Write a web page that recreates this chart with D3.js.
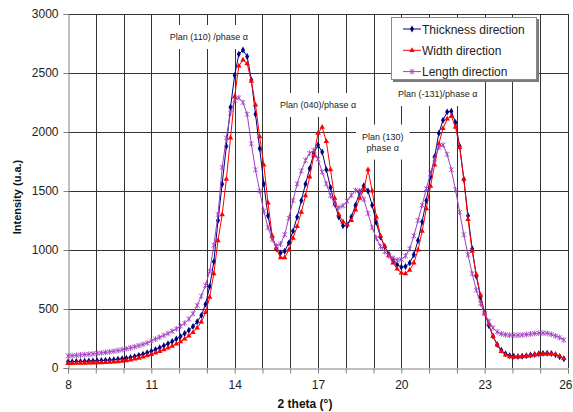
<!DOCTYPE html>
<html>
<head>
<meta charset="utf-8">
<script src="https://cdn.jsdelivr.net/npm/d3@7"></script>
<style>
  body { margin: 0; background: #fff; }
  svg { display: block; font-family: "Liberation Sans", Arial, sans-serif; }
</style>
</head>
<body>
<svg id="chart" width="573" height="412"></svg>
<script>
// Diffractogram sampling: 2θ from 8° in steps of 0.15°
const angleStart = 8;
const angleStep = 0.15;

const thicknessDirection = [
  52, 54, 55, 56, 57, 59, 60, 62, 63, 65,
  67, 70, 74, 78, 83, 90, 98, 107, 117, 130,
  143, 157, 172, 189, 206, 225, 245, 268, 293, 320,
  352, 392, 445, 540, 690, 900, 1250, 1560, 1880, 2210,
  2480, 2660, 2695, 2640, 2440, 2150, 1860, 1560, 1290, 1110,
  1010, 975, 990, 1060, 1160, 1280, 1420, 1560, 1690, 1820,
  1890, 1830, 1680, 1530, 1390, 1280, 1205, 1210, 1280, 1380,
  1490, 1545, 1500, 1380, 1230, 1110, 1030, 965, 915, 875,
  855, 860, 890, 960, 1080, 1240, 1420, 1620, 1790, 1990,
  2100, 2170, 2175, 2080, 1880, 1600, 1290, 1010, 780, 600,
  470, 360, 270, 200, 150, 120, 105, 100, 98, 100,
  104, 110, 115, 120, 124, 125, 122, 112, 95, 78
];

const widthDirection = [
  38, 39, 40, 41, 42, 43, 44, 45, 46, 47,
  49, 51, 54, 58, 63, 69, 76, 84, 93, 104,
  116, 128, 141, 155, 170, 186, 204, 224, 246, 272,
  302, 340, 390, 470, 600, 800, 1080, 1300, 1600, 1950,
  2300, 2560, 2610, 2580, 2430, 2230, 1960, 1720, 1400, 1120,
  1010, 935, 935, 1000, 1100, 1200, 1320, 1460, 1620, 1800,
  1990, 2040, 1920, 1680, 1440, 1300, 1240, 1215, 1250, 1340,
  1440, 1510, 1680, 1500, 1280, 1120, 1030, 955, 890, 840,
  805, 800, 830, 890, 1000, 1160, 1350, 1540, 1720, 1900,
  2030, 2110, 2135, 2040, 1870, 1600, 1260, 990, 790, 620,
  465, 370, 270, 195, 140, 110, 97, 93, 93, 95,
  100, 105, 110, 115, 118, 120, 120, 115, 100, 82
];

const lengthDirection = [
  102, 105, 108, 111, 114, 117, 120, 124, 128, 132,
  137, 142, 148, 155, 163, 171, 180, 190, 200, 212,
  230, 245, 260, 276, 293, 312, 332, 355, 380, 415,
  460, 530, 610, 700, 820, 1040, 1300, 1700, 1950, 2160,
  2270, 2290, 2250, 2150, 1900, 1680, 1500, 1330, 1190, 1090,
  1035, 1050, 1130, 1270, 1420, 1560, 1670, 1760, 1820, 1845,
  1770, 1660, 1560, 1460, 1390, 1360, 1375, 1415, 1465, 1505,
  1500, 1430, 1310, 1190, 1100, 1030, 985, 950, 930, 915,
  920, 950, 1010, 1120, 1250, 1380, 1520, 1650, 1770, 1870,
  1890, 1810, 1680, 1510, 1320, 1130, 960, 800, 660, 545,
  460, 395, 340, 305, 290, 282, 278, 278, 278, 280,
  284, 288, 292, 295, 296, 294, 285, 272, 258, 238
];

const seriesNames = ["Thickness direction", "Width direction", "Length direction"];
const xTickLabels = [8, 11, 14, 17, 20, 23, 26];
const yTickValues = [0, 500, 1000, 1500, 2000, 2500, 3000];

// Peak labels, anchored in data coordinates
const peakLabels = [
  { at: [13.07, 2805], lines: ["Plan (110) /phase α"] },
  { at: [17.0, 2229], lines: ["Plan (040)/phase α"] },
  { at: [21.31, 2322], lines: ["Plan (-131)/phase α"] },
  { at: [19.33, 1915], lines: ["Plan (130)", "phase α"] }
];

const svg = d3.select("#chart");
const x = d3.scaleLinear().domain([8, 26]).range([68, 568]);
const y = d3.scaleLinear().domain([0, 3000]).range([368, 14]);

const seriesStyles = [
  { color: "#000080", symbol: d3.symbolDiamond, size: 14 },
  { color: "#ff0000", symbol: d3.symbolTriangle, size: 13 },
  { color: "#a040c0", symbol: null, size: 2.3 }
];

const allSeries = [thicknessDirection, widthDirection, lengthDirection].map((vals, k) => ({
  name: seriesNames[k],
  style: seriesStyles[k],
  points: vals.map((v, i) => [angleStart + i * angleStep, v])
}));

// Grid
const grid = svg.append("g").attr("stroke", "#333").attr("stroke-width", 1);
grid.selectAll("line.v").data(d3.range(9, 27)).join("line")
  .attr("x1", d => Math.round(x(d)) + 0.5).attr("x2", d => Math.round(x(d)) + 0.5)
  .attr("y1", y(3000)).attr("y2", y(0));
grid.selectAll("line.h").data(yTickValues.filter(v => v > 0)).join("line")
  .attr("x1", x(8)).attr("x2", x(26))
  .attr("y1", d => Math.round(y(d)) + 0.5).attr("y2", d => Math.round(y(d)) + 0.5);

// Axes
const xAxis = d3.axisBottom(x).tickValues(d3.range(8, 27)).tickSize(5)
  .tickFormat(d => xTickLabels.includes(d) ? String(d) : "");
const gx = svg.append("g").attr("transform", `translate(0,${y(0) + 0.5})`).call(xAxis);
const yAxis = d3.axisLeft(y).tickValues(yTickValues).tickSize(5).tickPadding(5)
  .tickFormat(d3.format("d"));
const gy = svg.append("g").attr("transform", `translate(${x(8) + 0.5},0)`).call(yAxis);
[gx, gy].forEach(g => {
  g.select(".domain").attr("stroke", "#808080");
  g.selectAll(".tick line").attr("stroke", "#808080");
  g.selectAll(".tick text").attr("fill", "#222").style("font-size", "12px")
    .style("font-family", '"Liberation Sans", Arial, sans-serif');
});
gx.selectAll(".tick text").attr("dy", "1.0em");
// last label sits at the chart's right edge
gx.selectAll(".tick text").filter(d => d === 26).attr("text-anchor", "end").attr("x", 4);

// Axis titles
svg.append("text").attr("x", 305).attr("y", 408).attr("text-anchor", "middle")
  .style("font-size", "12px").style("font-weight", "bold").attr("fill", "#111")
  .text("2 theta (°)");
svg.append("text").attr("transform", "translate(21,197) rotate(-90)").attr("text-anchor", "middle")
  .style("font-size", "11px").style("font-weight", "bold").attr("fill", "#111")
  .text("Intensity (u.a.)");

// White boxes behind the peak labels (they hide the grid), then curves, then label text
const boxLayer = svg.append("g");
const seriesLayer = svg.append("g");
const labelLayer = svg.append("g");

labelLayer.selectAll("g").data(peakLabels).join("g")
  .attr("transform", d => `translate(${x(d.at[0])},${y(d.at[1])})`)
  .each(function (d) {
    const g = d3.select(this);
    const t = g.append("text").attr("text-anchor", "middle").style("font-size", "9px").attr("fill", "#222");
    d.lines.forEach((ln, i) => {
      t.append("tspan").attr("x", 0).attr("dy", i === 0 ? (3 - (d.lines.length - 1) * 5.5) : 11).text(ln);
    });
    const bb = t.node().getBBox();
    boxLayer.append("rect")
      .attr("x", x(d.at[0]) + bb.x - 6).attr("y", y(d.at[1]) + bb.y - 7)
      .attr("width", bb.width + 12).attr("height", bb.height + 14).attr("fill", "#fff");
  });

// Series
const line = d3.line().x(d => x(d[0])).y(d => y(d[1]));
const starPath = r => `M${-r},${-r}L${r},${r}M${-r},${r}L${r},${-r}M0,${-r - 0.6}L0,${r + 0.6}`;

function drawMarker(g, style) {
  if (style.symbol) {
    g.append("path").attr("d", d3.symbol(style.symbol, style.size)())
      .attr("fill", style.color).attr("stroke", "none");
  } else {
    g.append("path").attr("d", starPath(style.size))
      .attr("fill", "none").attr("stroke", style.color).attr("stroke-width", 0.9);
  }
}

allSeries.forEach(s => {
  const g = seriesLayer.append("g");
  g.append("path").datum(s.points).attr("d", line)
    .attr("fill", "none").attr("stroke", s.style.color).attr("stroke-width", 1);
  g.selectAll("g").data(s.points).join("g")
    .attr("transform", d => `translate(${x(d[0])},${y(d[1])})`)
    .each(function () { drawMarker(d3.select(this), s.style); });
});

// Legend
const lg = svg.append("g").attr("transform", "translate(391,17)");
lg.append("rect").attr("x", 2).attr("y", 2).attr("width", 146).attr("height", 63).attr("fill", "#7a7a7a");
lg.append("rect").attr("x", 0.5).attr("y", 0.5).attr("width", 145).attr("height", 62)
  .attr("fill", "#fff").attr("stroke", "#8a8a8a");
allSeries.forEach((s, i) => {
  const row = lg.append("g").attr("transform", `translate(0,${12 + i * 21.3})`);
  row.append("line").attr("x1", 12).attr("x2", 30).attr("y1", 0).attr("y2", 0)
    .attr("stroke", s.style.color).attr("stroke-width", 1);
  drawMarker(row.append("g").attr("transform", "translate(21,0)"), s.style);
  row.append("text").attr("x", 31).attr("y", 4.5).style("font-size", "12px").attr("fill", "#222").text(s.name);
});
</script>
</body>
</html>
